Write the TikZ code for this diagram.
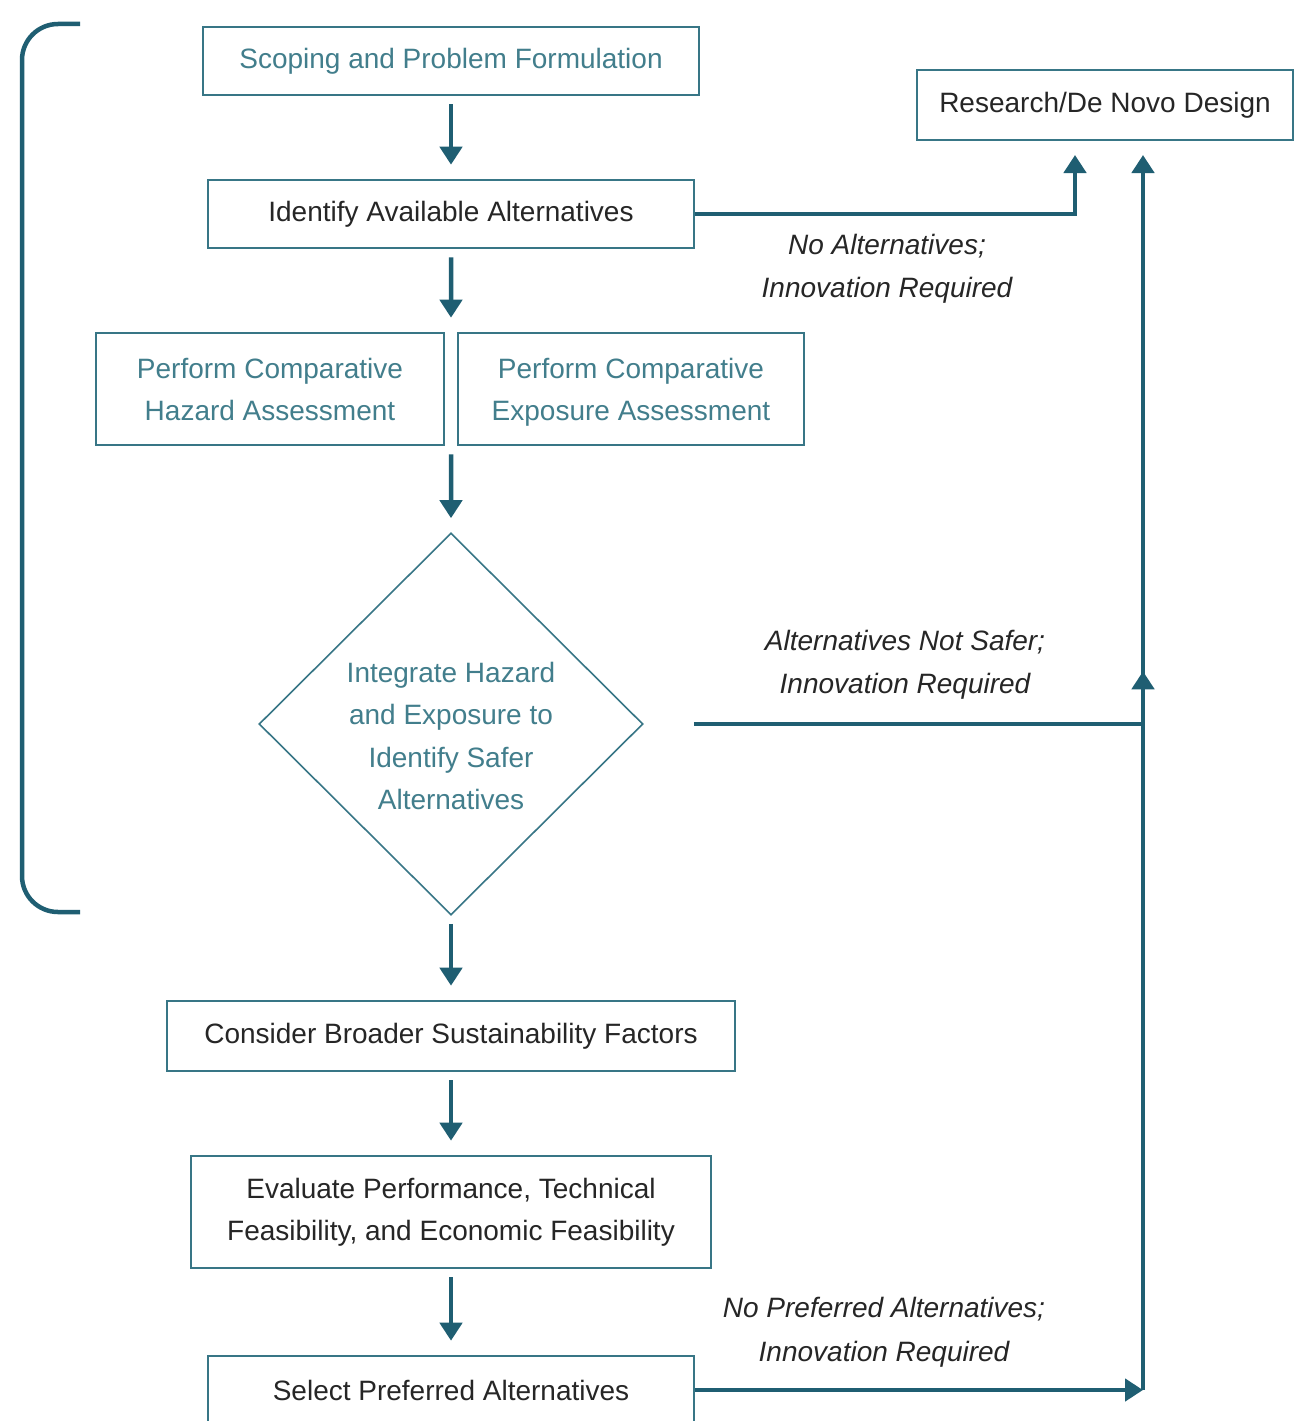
\documentclass[tikz,border=0pt]{standalone}
\usepackage{fontspec}
\setmainfont{Liberation Sans}
\usetikzlibrary{arrows.meta}
\usetikzlibrary{calc}
\usetikzlibrary{decorations.markings}
\usetikzlibrary{shapes.geometric}

\definecolor{boxline}{RGB}{56,118,134}
\definecolor{flowline}{RGB}{31,94,114}
\definecolor{tealtext}{RGB}{66,126,140}
\definecolor{darktext}{RGB}{38,38,38}

\begin{document}
\begin{tikzpicture}
[x=1pt,y=-1pt,
  boxdecorate/.style={shape=rectangle,draw=boxline,line width=2.6pt,inner sep=0pt,
    align=center,font=\fontsize{28}{42}\selectfont},
  diamdecorate/.style={shape=diamond,draw=boxline,line width=1.6pt,inner sep=0pt},
  notedecorate/.style={align=center,text=darktext,font=\fontsize{28}{43.5}\selectfont\itshape},
  linedecorate/.style={-{Triangle[length=18pt,width=22pt]},line width=4.5pt,draw=flowline,
    shorten <=8pt,shorten >=14pt},
  sidedecorate/.style={line width=4.5pt,draw=flowline},
  tipdecorate/.style={-{Triangle[length=18pt,width=22pt]}}]
\useasboundingbox (0,0) rectangle (1294,1421);
\clip (0,0) rectangle (1294,1421);
\fill[white] (0,0) rectangle (1294,1421);

%% bracket round the assessment steps
\draw[flowline,line width=4.5pt,rounded corners=36pt] (80,24) -- (22,24) -- (22,912) -- (80,912);

%% boxes
\node (scope) at (451,61) [boxdecorate,text=tealtext,minimum width=496pt,minimum height=68pt]
  {Scoping and Problem Formulation};
\node (ident) at (451,214) [boxdecorate,text=darktext,minimum width=486pt,minimum height=68pt]
  {Identify Available Alternatives};
\node (research) at (1105,105) [boxdecorate,text=darktext,minimum width=376pt,minimum height=70pt]
  {Research/De Novo Design};
\node (hazard) at (270,389) [boxdecorate,text=tealtext,minimum width=348pt,minimum height=112pt]
  {Perform Comparative\\Hazard Assessment};
\node (expo) at (631,389) [boxdecorate,text=tealtext,text depth=0pt,minimum width=346pt,minimum height=112pt]
  {Perform Comparative\\Exposure Assessment};
\node (integ) at (451,724) [diamdecorate,minimum width=384pt,minimum height=382pt] {};
\node (integtext) at (451,736) [align=center,text=tealtext,font=\fontsize{28}{42.5}\selectfont]
  {Integrate Hazard\\and Exposure to\\Identify Safer\\Alternatives};
\node (consider) at (451,1036) [boxdecorate,text=darktext,minimum width=568pt,minimum height=70pt]
  {Consider Broader Sustainability Factors};
\node (evaluate) at (451,1212) [boxdecorate,text=darktext,minimum width=520pt,minimum height=112pt]
  {Evaluate Performance, Technical\\Feasibility, and Economic Feasibility};
\node (select) at (451,1390) [boxdecorate,text=darktext,minimum width=486pt,minimum height=68pt]
  {Select Preferred Alternatives};

%% labels on the way back
\node (noalt) at (887,269) [notedecorate] {No Alternatives;\\Innovation Required};
\node (notsafer) at (905,665) [notedecorate] {Alternatives Not Safer;\\Innovation Required};
\node (nopref) at (884,1332) [notedecorate] {No Preferred Alternatives;\\Innovation Required};

%% points for the connectors
\coordinate (gaptop) at ($(hazard.north east)!0.5!(expo.north west)$);
\coordinate (gapbot) at ($(hazard.south east)!0.5!(expo.south west)$);
\coordinate (resleft) at (1075,140);
\coordinate (resright) at (1143,140);
\coordinate (join) at (1143,1390);

%% main flow
\path
\foreach \startnode/\endnode in {scope/ident, ident/gaptop, gapbot/integ,
  integ/consider, consider/evaluate, evaluate/select}
{
  (\startnode) edge[linedecorate] (\endnode)
};

%% back to research
\draw[sidedecorate,tipdecorate,shorten >=15pt] (ident.east) -| (resleft);
\draw[sidedecorate,tipdecorate] (select.east) -- (join);
\draw[sidedecorate,tipdecorate,shorten >=15pt,
  postaction={decorate},
  decoration={markings,mark=at position 0.575 with {\arrow{Triangle[length=18pt,width=22pt]}}}]
  (join) -- (resright);
\draw[sidedecorate,shorten <=50pt] (integ.east) -- (integ.east -| join);
\end{tikzpicture}
\end{document}
